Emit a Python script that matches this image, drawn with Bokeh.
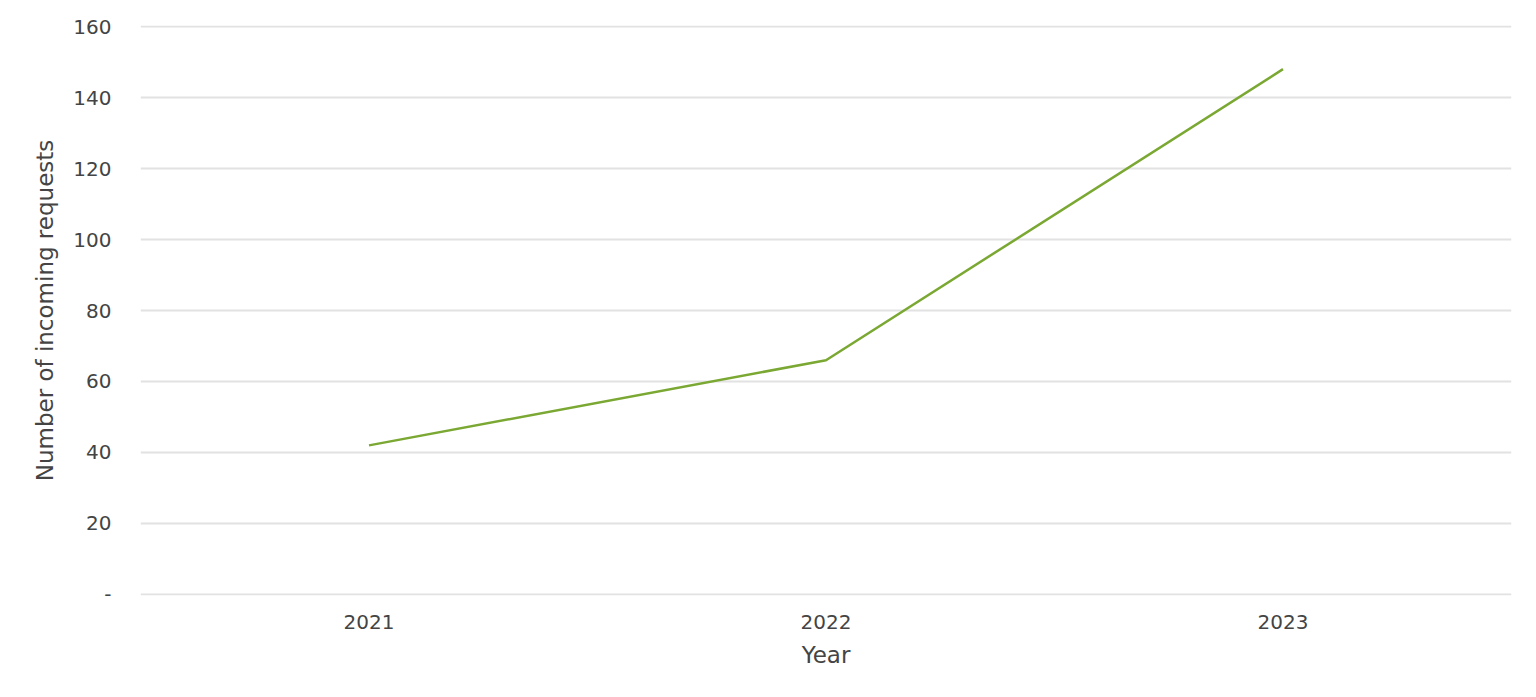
from bokeh.plotting import figure
from bokeh.models import FactorRange, Range1d, FixedTicker
from bokeh.embed import file_html
from bokeh.resources import INLINE

years = ["2021", "2022", "2023"]
requests = [42, 66, 148]
y_ticks = [0, 20, 40, 60, 80, 100, 120, 140, 160]

FONT = "DejaVu Sans"
TXT = "#444444"

p = figure(x_range=FactorRange(*years, range_padding=0), y_range=Range1d(-0.3, 160.3),
           width=1528, height=681, output_backend="svg", toolbar_location=None,
           min_border_left=140, min_border_right=17, min_border_top=25, min_border_bottom=86)
p.outline_line_color = None
p.background_fill_color = "white"

p.line(years, requests, line_color="#7aa832", line_width=2.5)

p.xgrid.grid_line_color = None
p.ygrid.grid_line_color = "#e2e2e2"
p.ygrid.grid_line_width = 2
p.yaxis.ticker = FixedTicker(ticks=y_ticks)
p.yaxis.major_label_overrides = {0: "-"}

for ax in (p.xaxis[0], p.yaxis[0]):
    ax.axis_line_color = None
    ax.major_tick_line_color = None
    ax.minor_tick_line_color = None
    ax.major_label_text_font = FONT
    ax.major_label_text_font_size = "20px"
    ax.major_label_text_color = TXT
    ax.axis_label_text_font = FONT
    ax.axis_label_text_font_size = "23px"
    ax.axis_label_text_font_style = "normal"
    ax.axis_label_text_color = TXT

p.yaxis.axis_label = "Number of incoming requests"
p.yaxis.major_label_standoff = 23
p.yaxis.axis_label_standoff = 12
p.xaxis.axis_label = "Year"
p.xaxis.major_label_standoff = 13
p.xaxis.axis_label_standoff = 10

open("out.html", "w").write(file_html(p, INLINE))
